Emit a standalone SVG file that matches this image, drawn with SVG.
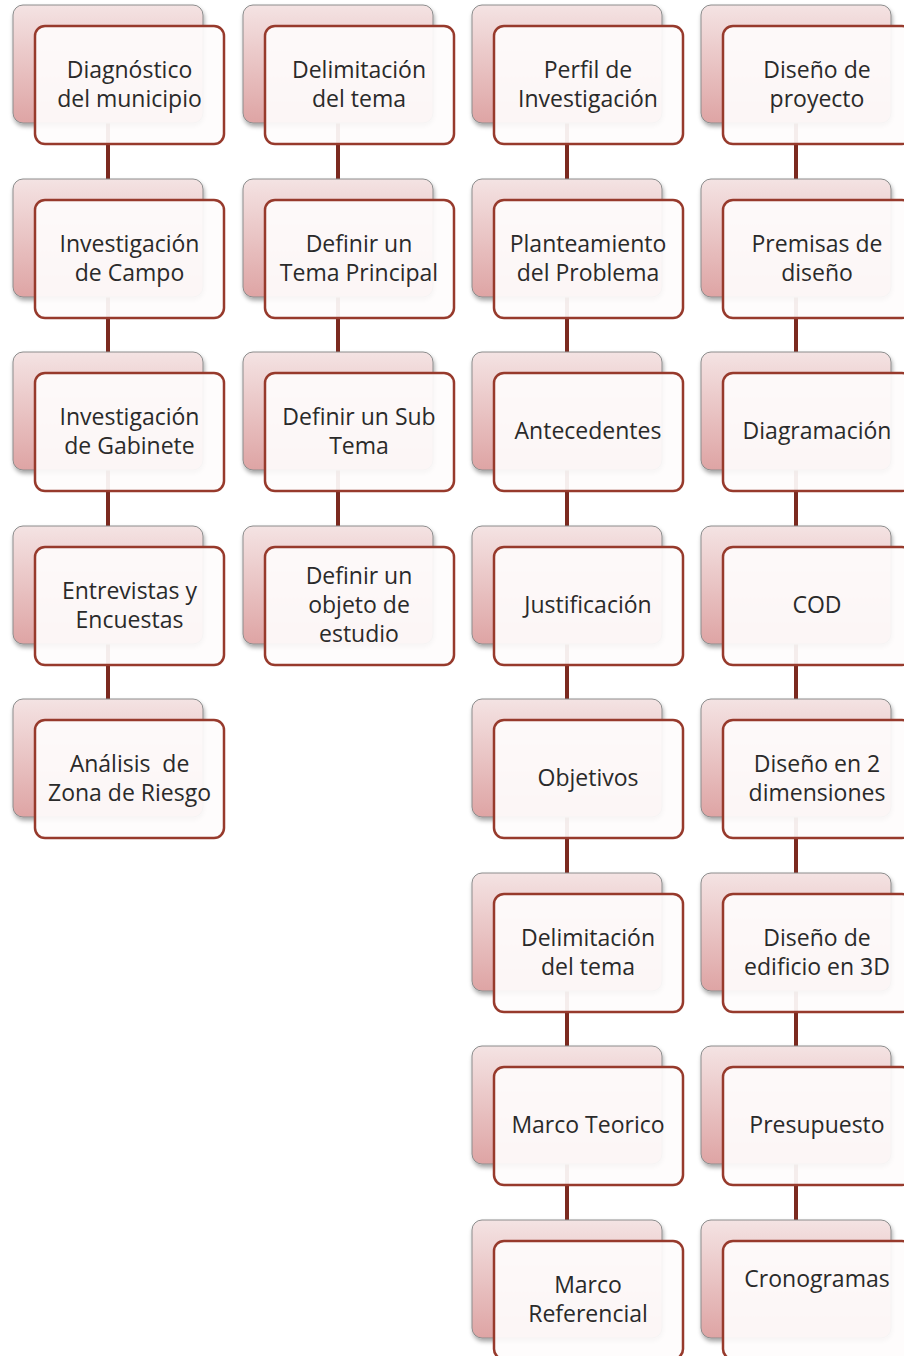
<svg xmlns="http://www.w3.org/2000/svg" width="904" height="1356" viewBox="0 0 904 1356">
<defs>
<linearGradient id="backGrad" x1="0" y1="0" x2="0" y2="1">
<stop offset="0" stop-color="#f4e3e3"/>
<stop offset="1" stop-color="#dea4a4"/>
</linearGradient>
<filter id="shadow" x="-10%" y="-10%" width="125%" height="130%">
<feDropShadow dx="1" dy="3" stdDeviation="2" flood-color="#000" flood-opacity="0.35"/>
</filter>
<style>
.back{fill:url(#backGrad);stroke:#8c8c8c;stroke-width:1}
.front{fill:#fefcfc;fill-opacity:0.93;stroke:#973a2c;stroke-width:2.5}
.conn{stroke:#7b2a20;stroke-width:4;fill:none}
.lbl{font-family:"Open Sans","Liberation Sans",sans-serif;font-size:23px;fill:#2a2a2a;text-anchor:middle}
</style>
</defs>
<rect width="904" height="1356" fill="#fff"/>
<g id="connectors">
<line class="conn" x1="108" y1="123" x2="108" y2="179"/>
<line class="conn" x1="108" y1="297" x2="108" y2="352"/>
<line class="conn" x1="108" y1="470" x2="108" y2="526"/>
<line class="conn" x1="108" y1="644" x2="108" y2="699"/>
<line class="conn" x1="338" y1="123" x2="338" y2="179"/>
<line class="conn" x1="338" y1="297" x2="338" y2="352"/>
<line class="conn" x1="338" y1="470" x2="338" y2="526"/>
<line class="conn" x1="567" y1="123" x2="567" y2="179"/>
<line class="conn" x1="567" y1="297" x2="567" y2="352"/>
<line class="conn" x1="567" y1="470" x2="567" y2="526"/>
<line class="conn" x1="567" y1="644" x2="567" y2="699"/>
<line class="conn" x1="567" y1="817" x2="567" y2="873"/>
<line class="conn" x1="567" y1="991" x2="567" y2="1046"/>
<line class="conn" x1="567" y1="1164" x2="567" y2="1220"/>
<line class="conn" x1="796" y1="123" x2="796" y2="179"/>
<line class="conn" x1="796" y1="297" x2="796" y2="352"/>
<line class="conn" x1="796" y1="470" x2="796" y2="526"/>
<line class="conn" x1="796" y1="644" x2="796" y2="699"/>
<line class="conn" x1="796" y1="817" x2="796" y2="873"/>
<line class="conn" x1="796" y1="991" x2="796" y2="1046"/>
<line class="conn" x1="796" y1="1164" x2="796" y2="1220"/>
</g>

<g id="n-diagnostico">
<rect class="back" x="13" y="5" width="190" height="118" rx="10" filter="url(#shadow)"/>
<rect class="front" x="35" y="26" width="189" height="118" rx="10"/>
<text class="lbl" x="129.5" y="77.5">Diagnóstico</text>
<text class="lbl" x="129.5" y="106.5">del municipio</text>
</g>
<g id="n-inv-campo">
<rect class="back" x="13" y="179" width="190" height="118" rx="10" filter="url(#shadow)"/>
<rect class="front" x="35" y="200" width="189" height="118" rx="10"/>
<text class="lbl" x="129.5" y="251.5">Investigación</text>
<text class="lbl" x="129.5" y="280.5">de Campo</text>
</g>
<g id="n-inv-gabinete">
<rect class="back" x="13" y="352" width="190" height="118" rx="10" filter="url(#shadow)"/>
<rect class="front" x="35" y="373" width="189" height="118" rx="10"/>
<text class="lbl" x="129.5" y="424.5">Investigación</text>
<text class="lbl" x="129.5" y="453.5">de Gabinete</text>
</g>
<g id="n-entrevistas">
<rect class="back" x="13" y="526" width="190" height="118" rx="10" filter="url(#shadow)"/>
<rect class="front" x="35" y="547" width="189" height="118" rx="10"/>
<text class="lbl" x="129.5" y="598.5">Entrevistas y</text>
<text class="lbl" x="129.5" y="627.5">Encuestas</text>
</g>
<g id="n-analisis">
<rect class="back" x="13" y="699" width="190" height="118" rx="10" filter="url(#shadow)"/>
<rect class="front" x="35" y="720" width="189" height="118" rx="10"/>
<text class="lbl" x="129.5" y="771.5" xml:space="preserve">Análisis  de</text>
<text class="lbl" x="129.5" y="800.5">Zona de Riesgo</text>
</g>

<g id="n-delimitacion">
<rect class="back" x="243" y="5" width="190" height="118" rx="10" filter="url(#shadow)"/>
<rect class="front" x="265" y="26" width="189" height="118" rx="10"/>
<text class="lbl" x="359" y="77.5">Delimitación</text>
<text class="lbl" x="359" y="106.5">del tema</text>
</g>
<g id="n-tema-principal">
<rect class="back" x="243" y="179" width="190" height="118" rx="10" filter="url(#shadow)"/>
<rect class="front" x="265" y="200" width="189" height="118" rx="10"/>
<text class="lbl" x="359" y="251.5">Definir un</text>
<text class="lbl" x="359" y="280.5">Tema Principal</text>
</g>
<g id="n-sub-tema">
<rect class="back" x="243" y="352" width="190" height="118" rx="10" filter="url(#shadow)"/>
<rect class="front" x="265" y="373" width="189" height="118" rx="10"/>
<text class="lbl" x="359" y="424.5">Definir un Sub</text>
<text class="lbl" x="359" y="453.5">Tema</text>
</g>
<g id="n-objeto">
<rect class="back" x="243" y="526" width="190" height="118" rx="10" filter="url(#shadow)"/>
<rect class="front" x="265" y="547" width="189" height="118" rx="10"/>
<text class="lbl" x="359" y="584">Definir un</text>
<text class="lbl" x="359" y="613">objeto de</text>
<text class="lbl" x="359" y="642">estudio</text>
</g>

<g id="n-perfil">
<rect class="back" x="472" y="5" width="190" height="118" rx="10" filter="url(#shadow)"/>
<rect class="front" x="494" y="26" width="189" height="118" rx="10"/>
<text class="lbl" x="588" y="77.5">Perfil de</text>
<text class="lbl" x="588" y="106.5">Investigación</text>
</g>
<g id="n-planteamiento">
<rect class="back" x="472" y="179" width="190" height="118" rx="10" filter="url(#shadow)"/>
<rect class="front" x="494" y="200" width="189" height="118" rx="10"/>
<text class="lbl" x="588" y="251.5">Planteamiento</text>
<text class="lbl" x="588" y="280.5">del Problema</text>
</g>
<g id="n-antecedentes">
<rect class="back" x="472" y="352" width="190" height="118" rx="10" filter="url(#shadow)"/>
<rect class="front" x="494" y="373" width="189" height="118" rx="10"/>
<text class="lbl" x="588" y="439">Antecedentes</text>
</g>
<g id="n-justificacion">
<rect class="back" x="472" y="526" width="190" height="118" rx="10" filter="url(#shadow)"/>
<rect class="front" x="494" y="547" width="189" height="118" rx="10"/>
<text class="lbl" x="588" y="613">Justificación</text>
</g>
<g id="n-objetivos">
<rect class="back" x="472" y="699" width="190" height="118" rx="10" filter="url(#shadow)"/>
<rect class="front" x="494" y="720" width="189" height="118" rx="10"/>
<text class="lbl" x="588" y="786">Objetivos</text>
</g>
<g id="n-delimitacion-2">
<rect class="back" x="472" y="873" width="190" height="118" rx="10" filter="url(#shadow)"/>
<rect class="front" x="494" y="894" width="189" height="118" rx="10"/>
<text class="lbl" x="588" y="945.5">Delimitación</text>
<text class="lbl" x="588" y="974.5">del tema</text>
</g>
<g id="n-marco-teorico">
<rect class="back" x="472" y="1046" width="190" height="118" rx="10" filter="url(#shadow)"/>
<rect class="front" x="494" y="1067" width="189" height="118" rx="10"/>
<text class="lbl" x="588" y="1133">Marco Teorico</text>
</g>
<g id="n-marco-referencial">
<rect class="back" x="472" y="1220" width="190" height="118" rx="10" filter="url(#shadow)"/>
<rect class="front" x="494" y="1241" width="189" height="118" rx="10"/>
<text class="lbl" x="588" y="1292.5">Marco</text>
<text class="lbl" x="588" y="1321.5">Referencial</text>
</g>

<g id="n-diseno-proyecto">
<rect class="back" x="701" y="5" width="190" height="118" rx="10" filter="url(#shadow)"/>
<rect class="front" x="723" y="26" width="189" height="118" rx="10"/>
<text class="lbl" x="817" y="77.5">Diseño de</text>
<text class="lbl" x="817" y="106.5">proyecto</text>
</g>
<g id="n-premisas">
<rect class="back" x="701" y="179" width="190" height="118" rx="10" filter="url(#shadow)"/>
<rect class="front" x="723" y="200" width="189" height="118" rx="10"/>
<text class="lbl" x="817" y="251.5">Premisas de</text>
<text class="lbl" x="817" y="280.5">diseño</text>
</g>
<g id="n-diagramacion">
<rect class="back" x="701" y="352" width="190" height="118" rx="10" filter="url(#shadow)"/>
<rect class="front" x="723" y="373" width="189" height="118" rx="10"/>
<text class="lbl" x="817" y="439">Diagramación</text>
</g>
<g id="n-cod">
<rect class="back" x="701" y="526" width="190" height="118" rx="10" filter="url(#shadow)"/>
<rect class="front" x="723" y="547" width="189" height="118" rx="10"/>
<text class="lbl" x="817" y="613">COD</text>
</g>
<g id="n-diseno-2d">
<rect class="back" x="701" y="699" width="190" height="118" rx="10" filter="url(#shadow)"/>
<rect class="front" x="723" y="720" width="189" height="118" rx="10"/>
<text class="lbl" x="817" y="771.5">Diseño en 2</text>
<text class="lbl" x="817" y="800.5">dimensiones</text>
</g>
<g id="n-diseno-3d">
<rect class="back" x="701" y="873" width="190" height="118" rx="10" filter="url(#shadow)"/>
<rect class="front" x="723" y="894" width="189" height="118" rx="10"/>
<text class="lbl" x="817" y="945.5">Diseño de</text>
<text class="lbl" x="817" y="974.5">edificio en 3D</text>
</g>
<g id="n-presupuesto">
<rect class="back" x="701" y="1046" width="190" height="118" rx="10" filter="url(#shadow)"/>
<rect class="front" x="723" y="1067" width="189" height="118" rx="10"/>
<text class="lbl" x="817" y="1133">Presupuesto</text>
</g>
<g id="n-cronogramas">
<rect class="back" x="701" y="1220" width="190" height="118" rx="10" filter="url(#shadow)"/>
<rect class="front" x="723" y="1241" width="189" height="118" rx="10"/>
<text class="lbl" x="817" y="1287">Cronogramas</text>
</g>
</svg>
